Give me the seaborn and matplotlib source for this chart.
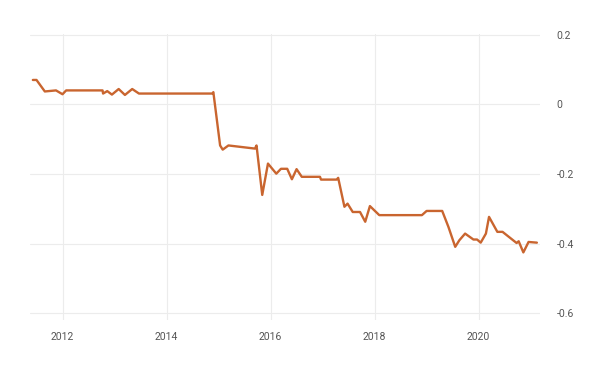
import matplotlib
matplotlib.use("Agg")
import matplotlib.pyplot as plt
import seaborn as sns
import pandas as pd

# =====================================================
# DATA
# =====================================================

years = [
    2011.43, 2011.50, 2011.66, 2011.875, 2012.00, 2012.07, 2012.77,
    2012.78, 2012.86, 2012.95, 2013.08, 2013.20, 2013.34, 2013.47,
    2014.88, 2014.90, 2015.03, 2015.08, 2015.19, 2015.70, 2015.73,
    2015.84, 2015.95, 2016.11, 2016.20, 2016.32, 2016.41, 2016.50,
    2016.60, 2016.95, 2016.97, 2017.27, 2017.30, 2017.42, 2017.48,
    2017.58, 2017.72, 2017.82, 2017.91, 2018.09, 2018.91, 2019.00,
    2019.30, 2019.42, 2019.55, 2019.63, 2019.74, 2019.90, 2019.97,
    2020.04, 2020.14, 2020.20, 2020.36, 2020.46, 2020.73, 2020.77,
    2020.86, 2020.96, 2021.12,
]
values = [
    0.070, 0.070, 0.037, 0.040, 0.029, 0.040, 0.040,
    0.031, 0.038, 0.028, 0.044, 0.027, 0.044, 0.031,
    0.031, 0.035, -0.118, -0.130, -0.118, -0.127, -0.118,
    -0.260, -0.170, -0.199, -0.185, -0.185, -0.215, -0.186,
    -0.208, -0.208, -0.216, -0.216, -0.211, -0.294, -0.285,
    -0.309, -0.309, -0.337, -0.292, -0.318, -0.318, -0.306,
    -0.306, -0.352, -0.409, -0.390, -0.371, -0.388, -0.388,
    -0.397, -0.371, -0.323, -0.366, -0.366, -0.398, -0.393,
    -0.425, -0.395, -0.397,
]

x_ticks = [2012, 2014, 2016, 2018, 2020]
y_ticks = [0.2, 0, -0.2, -0.4, -0.6]
y_labels = ["0.2", "0", "-0.2", "-0.4", "-0.6"]

df = pd.DataFrame({"year": years, "value": values})

# =====================================================
# PLOT
# =====================================================

sns.set_style("white")
plt.rcParams["font.family"] = ["Roboto", "DejaVu Sans"]

fig = plt.figure(figsize=(6, 3.66), dpi=100)
ax = fig.add_axes([0.05, 0.1257, 0.85, 0.781])

sns.lineplot(data=df, x="year", y="value", ax=ax,
             color="#c9652f", linewidth=1.7)
ax.lines[0].set_solid_joinstyle("round")

ax.set_xlim(2011.375, 2021.18)
ax.set_ylim(-0.619, 0.2015)

ax.set_xticks(x_ticks)
ax.set_xticklabels([str(t) for t in x_ticks])
ax.set_yticks(y_ticks)
ax.set_yticklabels(y_labels)

ax.yaxis.tick_right()
ax.tick_params(axis="y", length=0, pad=12, labelsize=7.5, labelcolor="#555555")
ax.tick_params(axis="x", length=0, pad=9, labelsize=7.5, labelcolor="#555555")
for lbl in ax.get_yticklabels():
    lbl.set_horizontalalignment("left")

ax.grid(True, color="#ececec", linewidth=0.8)
ax.set_axisbelow(True)
for s in ax.spines.values():
    s.set_visible(False)

ax.set_xlabel("")
ax.set_ylabel("")

fig.savefig("out.png", dpi=100)
